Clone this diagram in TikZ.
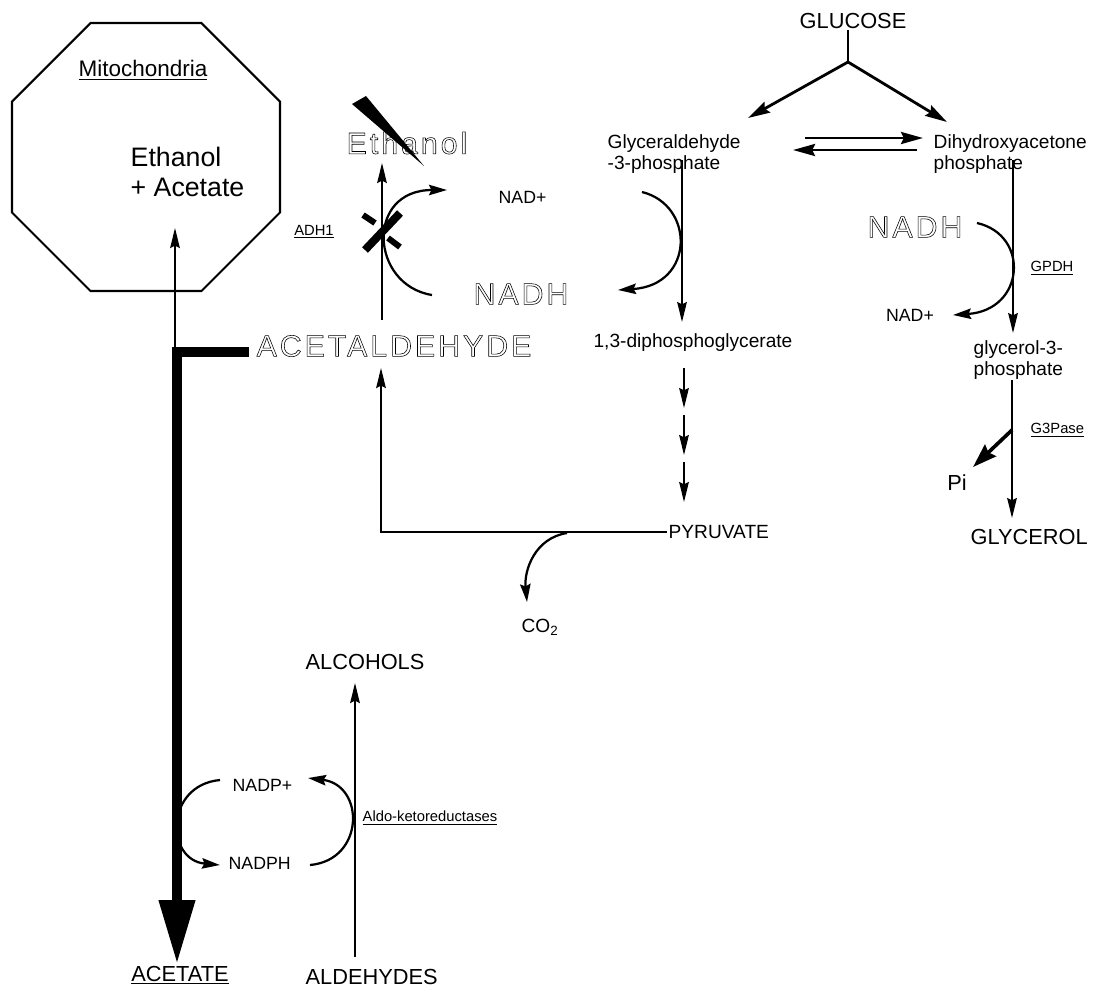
\documentclass[tikz,border=0pt]{standalone}
\usepackage{fontspec}
\setmainfont{Liberation Sans}
\newfontfamily\hollowfamily[LetterSpace=10]{Liberation Sans}
\usetikzlibrary{arrows.meta,shapes.geometric}

% outlined (hollow) lettering
\newcommand{\hollowtext}[1]{\special{pdf:literal direct 1 Tr 0.4 w}#1\special{pdf:literal direct 0 Tr 0.4 w}}

\tikzset{
  biglbl/.style={inner sep=1pt, font=\fontsize{15.5}{18}\selectfont},
  lbl/.style={inner sep=1pt, font=\fontsize{13.6}{16.4}\selectfont},
  cof/.style={inner sep=1pt, font=\fontsize{12.6}{15}\selectfont},
  enz/.style={inner sep=1pt, font=\fontsize{10.5}{12}\selectfont},
  hollowlbl/.style={inner sep=1pt, font=\hollowfamily\fontsize{21.5}{24}\selectfont},
  flow/.style={line width=1.4pt, -{Stealth[length=0.5cm,width=0.24cm,inset=0.06cm]}},
  flowthick/.style={line width=2pt, -{Stealth[length=0.55cm,width=0.3cm,inset=0.07cm]}},
  curvflow/.style={line width=1.6pt, -{Stealth[length=0.45cm,width=0.26cm,inset=0.06cm]}},
}

\begin{document}
\begin{tikzpicture}[x=0.025cm, y=-0.025cm]
  \useasboundingbox[fill=white] (0,0) rectangle (1095,989);

  % mitochondria
  \node[draw, line width=1.5pt, regular polygon, regular polygon sides=8,
    minimum size=7.25cm, inner sep=0] (mito) at (146,157) {};
  \node[inner sep=1pt, font=\fontsize{16}{19}\selectfont] (mitolbl) at (143,70) {\underline{Mitochondria}};
  \node[inner sep=1pt, align=left, anchor=west, font=\fontsize{19}{21.3}\selectfont]
    (etac) at (129,172) {Ethanol\\+ Acetate};

  % glycolysis
  \node[biglbl] (glucose) at (853,21) {GLUCOSE};
  \node[lbl, align=left, anchor=west] (g3p) at (606,154) {Glyceraldehyde\\[-1.5pt]-3-phosphate};
  \node[lbl, align=left, anchor=west] (dhap) at (932,154) {Dihydroxyacetone\\[-1.5pt]phosphate};
  \node[lbl] (dpg) at (693,343) {1,3-diphosphoglycerate};
  \node[lbl, anchor=west] (pyruvate) at (667,532) {PYRUVATE};
  \node[lbl] (co2) at (540,627) {CO\textsubscript{2}};
  \node[cof, anchor=west] (nadg) at (497,197) {NAD+};
  \node[hollowlbl] (nadhg) at (521,294) {\hollowtext{NADH}};

  % glycerol branch
  \node[hollowlbl] (nadhd) at (915,227) {\hollowtext{NADH}};
  \node[cof] (nadd) at (910,315) {NAD+};
  \node[enz, anchor=west] (gpdh) at (1029,268) {\underline{GPDH}};
  \node[lbl, align=left, anchor=west] (gol3p) at (972,360) {glycerol-3-\\[-1pt]phosphate};
  \node[enz, anchor=west] (g3pase) at (1029,430) {\underline{G3Pase}};
  \node[biglbl] (pi) at (957,483) {Pi};
  \node[biglbl, anchor=west] (glycerol) at (969,537) {GLYCEROL};

  % ethanol branch
  \node[hollowlbl] (ethanol) at (407,143) {\hollowtext{Ethanol}};
  \node[enz] (adh) at (314,232) {\underline{ADH1}};
  \node[hollowlbl, anchor=west] (acetal) at (255,346) {\hollowtext{ACETALDEHYDE}};

  % aldo-keto reductases
  \node[biglbl, anchor=west] (alcohols) at (304,662) {ALCOHOLS};
  \node[biglbl, anchor=west] (aldehydes) at (304,977) {ALDEHYDES};
  \node[biglbl] (acetate) at (180,975) {\underline{ACETATE}};
  \node[cof, anchor=west] (nadp) at (231,785) {NADP+};
  \node[cof, anchor=west] (nadph) at (227,863) {NADPH};
  \node[enz, anchor=west] (akr) at (361,818) {\underline{Aldo-ketoreductases}};

  % junctions and free ends
  \coordinate (split) at (848,62);
  \coordinate (g3pin) at (748,118);
  \coordinate (dhapin) at (947,122);
  \coordinate (g3pout) at (682,160);
  \coordinate (dpgin) at (682,322);
  \coordinate (dhapout) at (1013,160);
  \coordinate (gol3pin) at (1013,333);
  \coordinate (gol3pout) at (1012,380);
  \coordinate (glycin) at (1012,518);
  \coordinate (pibranch) at (1012,430);
  \coordinate (piin) at (973,467);
  \coordinate (adhout) at (382,320);
  \coordinate (adhin) at (382,163);
  \coordinate (recycle) at (381,368);
  \coordinate (decarb) at (567,533);
  \coordinate (co2in) at (527,602);
  \coordinate (accorner) at (177,352);
  \coordinate (mitobase) at (175,347);
  \coordinate (mitoin) at (175,228);
  \coordinate (aldout) at (355,957);
  \coordinate (alcin) at (355,683);

  % glucose split
  \draw[line width=2pt] (split |- glucose.south) -- (split);
  \draw[flowthick] (split) -- (g3pin);
  \draw[flowthick] (split) -- (dhapin);
  \draw[flowthick] (805,138) -- (923,138);
  \draw[flowthick] (917,150) -- (793,150);

  % lower glycolysis
  \draw[flow] (g3pout) -- (dpgin);
  \draw[curvflow] (642,192) .. controls (695,205) and (695,285) .. (618,290);
  \foreach \k in {0,1,2}
    \draw[flow] (684,{368+47*\k}) -- ++(0,40);
  \draw[flow] (pyruvate.west) -| (recycle);
  \draw[curvflow] (decarb) .. controls (535,538) and (524,570) .. (co2in);

  % glycerol
  \draw[flow] (dhapout) -- (gol3pin);
  \draw[curvflow] (977,223) .. controls (1030,235) and (1025,310) .. (953,315);
  \draw[flow] (gol3pout) -- (glycin);
  \draw[line width=2.6pt, -{Stealth[length=0.6cm,width=0.4cm,inset=0.07cm]}] (pibranch) -- (piin);

  % blocked ADH1 step
  \draw[flow] (adhout) -- (adhin);
  \draw[curvflow] (432,295) .. controls (370,285) and (365,190) .. (447,190);
  \draw[line width=0.2cm] (365,250) -- (400,213);
  \draw[line width=0.15cm] (363,215) -- (375,223);
  \draw[line width=0.15cm] (388,238) -- (400,247);
  \fill (352,104) -- (366,96) -- (424,166) -- cycle;

  % acetaldehyde to acetate and mitochondria
  \draw[line width=0.25cm, shorten <=0.15cm, -{Triangle[length=1.6cm,width=0.85cm]}]
    (acetal.west |- accorner) -- (accorner) -- (accorner |- acetate.north);
  \draw[flow] (mitobase) -- (mitoin);

  % aldehydes to alcohols
  \draw[flow] (aldout) -- (alcin);
  \draw[curvflow] (220,780) .. controls (165,785) and (165,860) .. (220,865);
  \draw[curvflow] (310,865) .. controls (365,860) and (365,785) .. (308,778);
\end{tikzpicture}
\end{document}
